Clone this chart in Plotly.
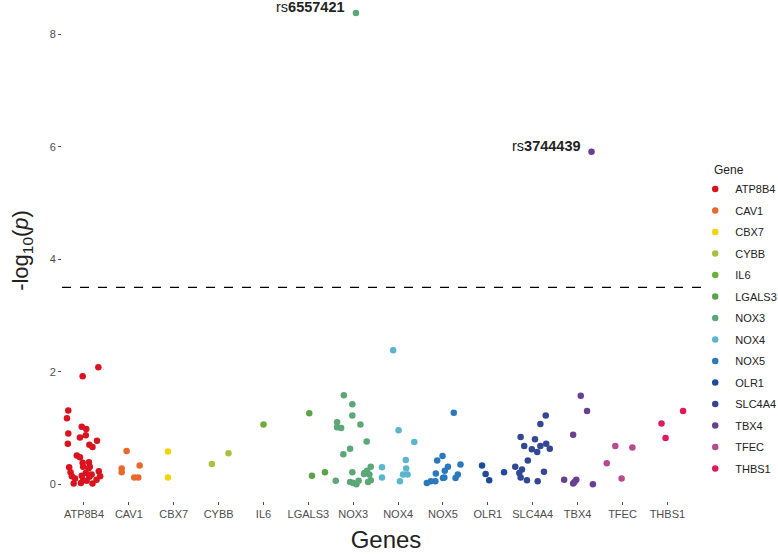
import plotly.graph_objects as go

genes = ["ATP8B4", "CAV1", "CBX7", "CYBB", "IL6", "LGALS3", "NOX3",
         "NOX4", "NOX5", "OLR1", "SLC4A4", "TBX4", "TFEC", "THBS1"]

# -log10(p) per SNP
logp = {
    "ATP8B4": [2.08, 1.92, 1.31, 1.17, 1.02, 0.98, 0.90, 0.83, 0.87, 0.72, 0.70, 0.66,
               0.77, 0.51, 0.48, 0.38, 0.31, 0.39, 0.31, 0.23, 0.14, 0.30, 0.21, 0.14,
               0.10, 0.01, 0.02, 0.07, 0.15, 0.20, 0.28, 0.17, 0.01, 0.13, 0.08, 0.06],
    "CAV1": [0.59, 0.28, 0.21, 0.33, 0.12, 0.12],
    "CBX7": [0.58, 0.12],
    "CYBB": [0.36, 0.55],
    "IL6": [1.06],
    "LGALS3": [1.26, 0.15, 0.21],
    "NOX3": [8.38, 1.58, 1.42, 1.22, 1.10, 1.01, 1.00, 1.06, 0.76, 0.63, 0.53, 0.21,
             0.06, 0.04, 0.02, 0.00, 0.06, 0.20, 0.24, 0.31, 0.17, 0.04, 0.07, 0.18],
    "NOX4": [2.38, 0.96, 0.75, 0.43, 0.28, 0.17, 0.17, 0.05, 0.30, 0.12],
    "NOX5": [1.27, 0.50, 0.42, 0.31, 0.35, 0.24, 0.19, 0.11, 0.12, 0.17, 0.11, 0.05,
             0.05, 0.02],
    "OLR1": [0.33, 0.18, 0.07, 0.21],
    "SLC4A4": [1.22, 1.07, 0.84, 0.80, 0.68, 0.62, 0.57, 0.68, 0.72, 0.63, 0.42, 0.31,
               0.26, 0.20, 0.12, 0.07, 0.05, 0.22],
    "TBX4": [5.91, 1.57, 1.30, 0.88, 0.08, 0.08, 0.04, 0.01, 0.00],
    "TFEC": [0.37, 0.68, 0.65, 0.10],
    "THBS1": [1.08, 0.82, 1.30],
}

# horizontal jitter of each point within its gene column
jitter = {
    "ATP8B4": [0.32, -0.03, -0.35, -0.38, -0.05, 0.05, -0.35, -0.09, 0.04, -0.36, 0.12, 0.19,
               0.29, -0.16, -0.09, -0.03, -0.02, 0.11, 0.13, 0.33, 0.36, -0.33, -0.30, -0.27,
               -0.20, -0.23, -0.07, -0.02, -0.05, 0.04, 0.10, 0.17, 0.19, 0.12, 0.28, 0.06],
    "CAV1": [-0.05, -0.16, -0.16, 0.24, 0.12, 0.21],
    "CBX7": [-0.13, -0.13],
    "CYBB": [-0.15, 0.22],
    "IL6": [0.0],
    "LGALS3": [0.02, 0.08, 0.37],
    "NOX3": [0.06, -0.21, -0.02, -0.02, -0.36, -0.36, -0.27, 0.16, 0.30, -0.07, -0.22, -0.02,
             -0.39, -0.07, 0.0, 0.07, 0.12, 0.25, 0.31, 0.39, 0.36, 0.33, 0.39, 0.24],
    "NOX4": [-0.11, 0.01, 0.36, 0.17, 0.18, 0.11, 0.21, 0.04, -0.36, -0.36],
    "NOX5": [0.24, -0.01, -0.13, 0.11, 0.39, 0.04, -0.16, 0.0, 0.03, 0.33, 0.28, -0.17,
             -0.27, -0.36],
    "OLR1": [-0.13, -0.05, 0.03, 0.36],
    "SLC4A4": [0.29, 0.17, -0.27, 0.05, -0.19, -0.02, 0.10, 0.17, 0.30, 0.38, -0.11, -0.39,
               -0.24, -0.30, -0.27, -0.13, 0.11, 0.25],
    "TBX4": [0.31, 0.07, 0.21, -0.10, -0.30, -0.03, -0.07, -0.10, 0.34],
    "TFEC": [-0.35, -0.16, 0.22, -0.02],
    "THBS1": [-0.13, -0.04, 0.35],
}

colors = {
    "ATP8B4": "#d9141f", "CAV1": "#e8692c", "CBX7": "#f5d30c", "CYBB": "#a8c23e",
    "IL6": "#6aae3b", "LGALS3": "#58a447", "NOX3": "#5ba776", "NOX4": "#5bb5cc",
    "NOX5": "#2a79be", "OLR1": "#1f4a9b", "SLC4A4": "#334894", "TBX4": "#6b3f8f",
    "TFEC": "#b84b8f", "THBS1": "#e0195b",
}

top_snps = {"NOX3": "rs<b>6557421</b>", "TBX4": "rs<b>3744439</b>"}
threshold = 3.5

fig = go.Figure()
for i, gene in enumerate(genes):
    fig.add_trace(go.Scatter(
        x=[i + j for j in jitter[gene]],
        y=logp[gene],
        mode="markers",
        name=gene,
        legendgroup=gene,
        marker=dict(color=colors[gene], size=6.5, line=dict(width=0)),
    ))

for gene, label in top_snps.items():
    k = logp[gene].index(max(logp[gene]))
    fig.add_annotation(
        x=genes.index(gene) + jitter[gene][k], y=logp[gene][k],
        text=label, showarrow=False, xanchor="right", yanchor="middle",
        xshift=-9, yshift=6,
        font=dict(family="Liberation Sans, Arial", size=14.5, color="#222222"),
    )

# legend title drawn as its own text so it lines up with the entries
fig.add_annotation(
    xref="paper", yref="paper", x=1.0, y=(501 - 170) / 501,
    xanchor="left", yanchor="middle", xshift=2, showarrow=False,
    text="Gene", font=dict(family="Liberation Sans, Arial", size=12, color="#222222"),
)

fig.add_hline(y=threshold, line=dict(color="black", width=1.2, dash="dash"))

fig.update_layout(
    width=778, height=554,
    margin=dict(l=62, r=68, t=0, b=53, autoexpand=False),
    paper_bgcolor="white", plot_bgcolor="white",
    font=dict(family="Liberation Sans, Arial", color="#4d4d4d"),
    showlegend=True,
    legend=dict(
        font=dict(size=11, color="#222222"),
        xref="container", yref="container",
        x=0.8936, y=0.685, xanchor="left", yanchor="top",
        tracegroupgap=2.5, itemwidth=30, maxheight=500,
        bgcolor="rgba(0,0,0,0)",
    ),
)
fig.update_xaxes(
    range=[-0.49, 13.95], automargin=False,
    tickmode="array", tickvals=list(range(len(genes))), ticktext=genes,
    ticks="outside", ticklen=3, tickcolor="#4d4d4d", tickwidth=1,
    tickfont=dict(size=11, color="#4d4d4d"),
    showgrid=False, zeroline=False, showline=False,
    title=dict(text="Genes", font=dict(size=24, color="#222222"), standoff=11),
)
fig.update_yaxes(
    range=[-0.3, 8.61], automargin=False,
    tickvals=[0, 2, 4, 6, 8],
    ticks="outside", ticklen=3, tickcolor="#4d4d4d", tickwidth=1,
    tickfont=dict(size=11, color="#4d4d4d"),
    showgrid=False, zeroline=False, showline=False,
    title=dict(text="-log<sub>10</sub>(<i>p</i>)", font=dict(size=22, color="#222222"), standoff=14),
)

# the page's default body margin would push the figure 8px off the window corner
fig.write_html(
    "out.html",
    config={"displayModeBar": False},
    post_script="document.body.style.margin = '0';",
)
